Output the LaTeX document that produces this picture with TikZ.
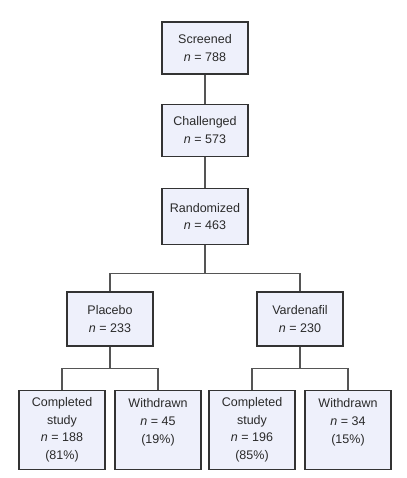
\documentclass[tikz,border=0pt]{standalone}
\usepackage{fontspec}
\setmainfont{Liberation Sans}
\usetikzlibrary{positioning}
\definecolor{boxfill}{HTML}{EEF0FB}
\definecolor{boxline}{HTML}{333333}
\definecolor{linkgray}{HTML}{555555}
\definecolor{txtgray}{HTML}{2A2A2A}

\begin{document}
\begin{tikzpicture}[
    every node/.style={font=\fontsize{12.5}{17.7}\selectfont, align=center, text=txtgray},
    stage/.style={rectangle, draw=boxline, fill=boxfill, line width=1.3pt,
                  minimum width=86pt, minimum height=52pt, inner sep=0pt},
    leaf/.style={stage, minimum height=79pt},
    link/.style={line width=1.3pt, color=linkgray}
]
\useasboundingbox (0,0) rectangle (406pt,-478pt);

% Nodes
\node[stage] (screened) at (205pt,-48pt)
    {Screened\\\textit{n} = 788};

\node[stage, below=29pt of screened] (challenged)
    {Challenged\\\textit{n} = 573};

\node[stage, minimum height=56pt, below=31pt of challenged] (randomized)
    {Randomized\\\textit{n} = 463};

\node[stage, minimum height=54pt, below=46pt of randomized, xshift=-95pt] (placebo)
    {Placebo\\\textit{n} = 233};

\node[stage, minimum height=54pt, below=46pt of randomized, xshift=95pt] (vardenafil)
    {Vardenafil\\\textit{n} = 230};

\node[leaf, below=43pt of placebo, xshift=-48pt] (pcompleted)
    {Completed\\study\\\textit{n} = 188\\(81\%)};

\node[leaf, below=43pt of placebo, xshift=48pt] (pwithdrawn)
    {Withdrawn\\\textit{n} = 45\\(19\%)\\~};

\node[leaf, below=43pt of vardenafil, xshift=-48pt] (vcompleted)
    {Completed\\study\\\textit{n} = 196\\(85\%)};

\node[leaf, below=43pt of vardenafil, xshift=48pt] (vwithdrawn)
    {Withdrawn\\\textit{n} = 34\\(15\%)\\~};

\coordinate[below=28pt of randomized] (rsplit);
\coordinate[below=22pt of placebo] (psplit);
\coordinate[below=22pt of vardenafil] (vsplit);

% Links
\draw[link] (screened) -- (challenged);
\draw[link] (challenged) -- (randomized);
\draw[link] (randomized) -- (rsplit);
\draw[link] (rsplit) -| (placebo);
\draw[link] (rsplit) -| (vardenafil);
\draw[link] (placebo) -- (psplit);
\draw[link] (psplit) -| (pcompleted);
\draw[link] (psplit) -| (pwithdrawn);
\draw[link] (vardenafil) -- (vsplit);
\draw[link] (vsplit) -| (vcompleted);
\draw[link] (vsplit) -| (vwithdrawn);

\end{tikzpicture}
\end{document}
